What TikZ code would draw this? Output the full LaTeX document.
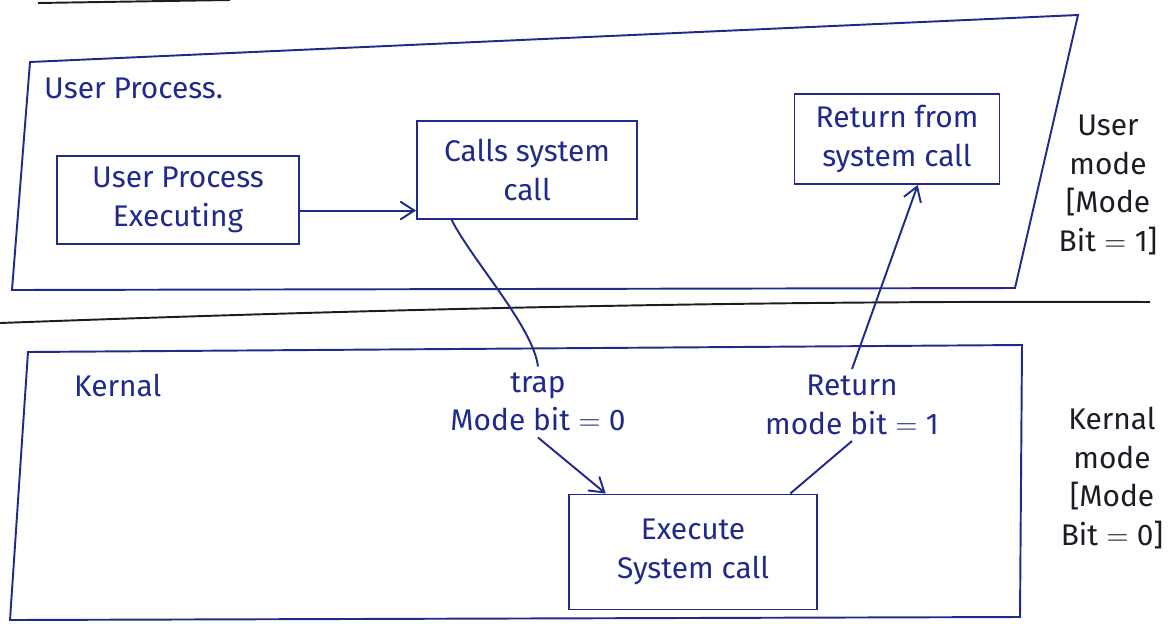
\documentclass[tikz,border=0pt]{standalone}
\usepackage{fontspec}
\setmainfont{Fira Sans}
\usepackage{tikz}
\usetikzlibrary{arrows.meta,positioning,calc}

\definecolor{inkblue}{RGB}{32,42,140}
\definecolor{inkblack}{RGB}{28,28,38}

\begin{document}
\begin{tikzpicture}[
      x=0.02cm, y=-0.02cm,
      every node/.style={font=\fontsize{17}{22}\selectfont, text=inkblue},
      proc/.style={
        draw=inkblue,
        line width=1.1pt,
        minimum width=4.6cm,
        minimum height=1.75cm,
        align=center,
        inner sep=2pt
      },
      frame/.style={draw=inkblue, line width=1.1pt},
      flow/.style={-{Straight Barb[length=2.8mm,width=3.6mm]}, line width=1.1pt, inkblue},
      link/.style={line width=1.1pt, inkblue},
      modelbl/.style={align=center, text=inkblack}
    ]
    \useasboundingbox (0,0) rectangle (1176,623);

    % stray stroke and separator
    \draw[inkblack, line width=1.1pt] (38,3) -- (230,0);
    \draw[inkblack, line width=1.1pt] (0,323) .. controls (300,312) and (700,300) .. (1150,302);

    % the two regions
    \draw[frame] (30,62) -- (1078,15) -- (1015,288) -- (12,290) -- cycle;
    \draw[frame] (28,352) -- (1022,345) -- (1020,617) -- (10,620) -- cycle;

    \node[anchor=west] (usertitle) at (38,88) {User Process.};
    \node[anchor=west] (kerntitle) at (68,385) {Kernal};

    % boxes
    \node[proc, minimum width=4.85cm] (exec) at (178,200) {User Process\\Executing};
    \node[proc, minimum width=4.4cm, minimum height=1.95cm] (calls) at (527,170) {Calls system\\call};
    \node[proc, minimum width=4.1cm, minimum height=1.8cm] (retbox) at (897,139) {Return from\\system call};
    \node[proc, minimum width=4.95cm, minimum height=2.3cm] (execsys) at (693,552) {Execute\\System call};

    % labels on the crossings
    \node[align=center] (trap) at (538,402) {trap\\Mode bit${}={}$0};
    \node[align=center] (retlbl) at (852,405) {Return\\mode bit${}={}$1};

    \node[modelbl] (usermode) at (1108,185) {User\\mode\\{}[Mode\\Bit${}={}$1]};
    \node[modelbl] (kernmode) at (1112,478) {Kernal\\mode\\{}[Mode\\Bit${}={}$0]};

    \draw[flow] ([yshift=-6pt]exec.east) -- ([yshift=-6pt]exec.east -| calls.west);
    \draw[link] ($(calls.south west)!0.16!(calls.south east)$) .. controls +(20,40) and +(-5,-40) .. (trap.north);
    \draw[flow] (trap.south) -- ($(execsys.north west)!0.15!(execsys.north east)$);
    \draw[link] ($(execsys.north west)!0.89!(execsys.north east)$) -- (retlbl.south);
    \draw[flow] (retlbl.north) -- ($(retbox.south west)!0.6!(retbox.south east)$);
  \end{tikzpicture}
\end{document}
